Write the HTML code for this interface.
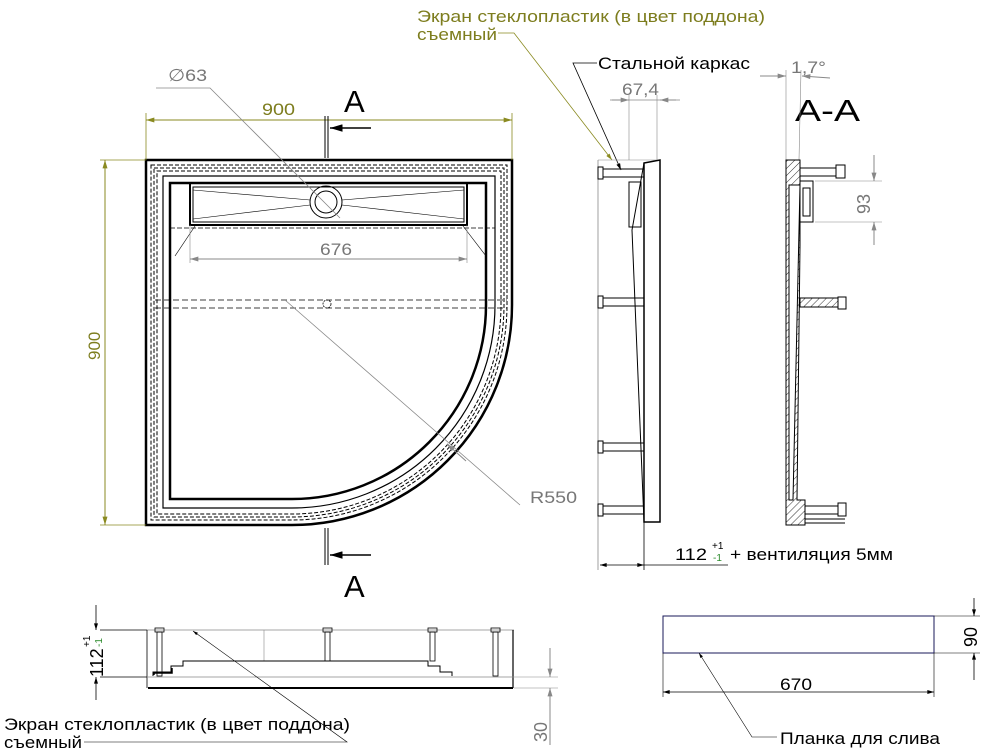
<!DOCTYPE html>
<html><head><meta charset="utf-8"><style>
html,body{margin:0;padding:0;background:#fff;}
svg{display:block;font-family:"Liberation Sans","DejaVu Sans",sans-serif;}
</style></head><body>
<svg width="993" height="754" viewBox="0 0 993 754" xmlns="http://www.w3.org/2000/svg">
<defs>
<marker id="ag" viewBox="0 0 10 6" refX="10" refY="3" markerWidth="12" markerHeight="5" orient="auto-start-reverse"><path d="M0,0 L10,3 L0,6 Z" fill="#888"/></marker>
<marker id="ao" viewBox="0 0 10 6" refX="10" refY="3" markerWidth="12" markerHeight="5" orient="auto-start-reverse"><path d="M0,0 L10,3 L0,6 Z" fill="#8a8a20"/></marker>
<marker id="ak" viewBox="0 0 10 6" refX="10" refY="3" markerWidth="10" markerHeight="5" orient="auto-start-reverse"><path d="M0,0 L10,3 L0,6 Z" fill="#000"/></marker>
<pattern id="hatch" width="5" height="5" patternUnits="userSpaceOnUse" patternTransform="rotate(45)"><line x1="0" y1="0" x2="0" y2="5" stroke="#000" stroke-width="0.8"/></pattern>
</defs>

<!-- Top labels -->
<text x="417" y="22" font-size="17" fill="#7d7d1e" textLength="348" lengthAdjust="spacingAndGlyphs">Экран стеклопластик (в цвет поддона)</text>
<text x="417" y="40" font-size="17" fill="#7d7d1e" textLength="80" lengthAdjust="spacingAndGlyphs">съемный</text>
<polyline points="498,33 514,33 612,160" fill="none" stroke="#8a8a20" stroke-width="0.8" marker-end="url(#ao)"/>
<text x="598" y="69" font-size="17" fill="#000" textLength="152" lengthAdjust="spacingAndGlyphs">Стальной каркас</text>
<polyline points="597,63 573,63 621,170" fill="none" stroke="#000" stroke-width="0.8" marker-end="url(#ak)"/>

<!-- Top view -->
<g fill="none" stroke="#000">
<path d="M146,160 H512 V305 A220,220 0 0 1 292,525 H146 Z" stroke-width="2.5"/>
<path d="M151,165 H507 V305 A215,215 0 0 1 292,520 H151 Z" stroke-width="1" stroke-dasharray="4,2"/>
<path d="M154,168 H504 V305 A212,212 0 0 1 292,517 H154 Z" stroke-width="1" stroke-dasharray="4,2"/>
<path d="M157,171 H501 V305 A209,209 0 0 1 292,514 H157 Z" stroke-width="1" stroke-dasharray="4,2"/>
<path d="M163,176 H495 V305 A203,203 0 0 1 292,508 H163 Z" stroke-width="1.2"/>
<path d="M170,183 H486 V305 A194,194 0 0 1 292,499 H170 Z" stroke-width="2.5"/>
<rect x="190" y="183" width="277" height="42" stroke-width="2"/>
<rect x="193" y="187" width="271" height="35" stroke-width="1"/>
<line x1="193" y1="190" x2="310" y2="200" stroke-width="0.6"/>
<line x1="193" y1="219" x2="310" y2="205" stroke-width="0.6"/>
<line x1="342" y1="200" x2="464" y2="190" stroke-width="0.6"/>
<line x1="342" y1="205" x2="464" y2="219" stroke-width="0.6"/>
<circle cx="326" cy="202" r="16" stroke-width="1"/>
<circle cx="326" cy="202" r="11" stroke-width="1"/>
<line x1="170" y1="228" x2="495" y2="228" stroke-width="0.8" stroke-dasharray="5,2"/>
<line x1="175" y1="256" x2="195" y2="226" stroke-width="0.6"/>
<line x1="486" y1="256" x2="463" y2="226" stroke-width="0.6"/>
<line x1="155" y1="300" x2="507" y2="300" stroke-width="0.8" stroke-dasharray="6,3"/>
<line x1="155" y1="308" x2="507" y2="308" stroke-width="0.8" stroke-dasharray="6,3"/>
<circle cx="327" cy="304" r="4" stroke-width="0.8" stroke-dasharray="2,1"/>
</g>
<!-- dims top view -->
<line x1="146" y1="120" x2="512" y2="120" stroke="#8a8a20" stroke-width="1" marker-start="url(#ao)" marker-end="url(#ao)"/>
<line x1="146" y1="113" x2="146" y2="160" stroke="#8a8a20" stroke-width="0.8"/>
<line x1="512" y1="113" x2="512" y2="160" stroke="#8a8a20" stroke-width="0.8"/>
<text x="262" y="115" font-size="17" fill="#7d7d1e" textLength="33" lengthAdjust="spacingAndGlyphs">900</text>
<line x1="105" y1="160" x2="105" y2="525" stroke="#8a8a20" stroke-width="1" marker-start="url(#ao)" marker-end="url(#ao)"/>
<line x1="100" y1="160" x2="146" y2="160" stroke="#8a8a20" stroke-width="0.8"/>
<line x1="100" y1="525" x2="146" y2="525" stroke="#8a8a20" stroke-width="0.8"/>
<text transform="translate(100,360) rotate(-90)" font-size="17" fill="#7d7d1e">900</text>
<line x1="190" y1="259" x2="467" y2="259" stroke="#888" stroke-width="1" marker-start="url(#ag)" marker-end="url(#ag)"/>
<line x1="190" y1="225" x2="190" y2="263" stroke="#888" stroke-width="0.6"/>
<line x1="467" y1="225" x2="467" y2="263" stroke="#888" stroke-width="0.6"/>
<text x="320" y="255" font-size="17" fill="#777" textLength="32" lengthAdjust="spacingAndGlyphs">676</text>
<text x="168" y="81" font-size="17" fill="#777" textLength="39" lengthAdjust="spacingAndGlyphs">∅63</text>
<polyline points="156,88 210,88 340,218" fill="none" stroke="#888" stroke-width="0.8"/>
<line x1="285" y1="300" x2="520" y2="505" stroke="#888" stroke-width="0.8"/>
<line x1="447" y1="444" x2="466" y2="461" stroke="#888" stroke-width="1" marker-start="url(#ag)"/>
<text x="530" y="503" font-size="17" fill="#777" textLength="47" lengthAdjust="spacingAndGlyphs">R550</text>
<!-- section A marks -->
<line x1="325" y1="116" x2="325" y2="158" stroke="#000" stroke-width="1"/>
<line x1="328" y1="116" x2="328" y2="158" stroke="#000" stroke-width="1"/>
<line x1="371" y1="128" x2="330" y2="128" stroke="#000" stroke-width="1.5" marker-end="url(#ak)"/>
<text x="344" y="112" font-size="31" fill="#000">A</text>
<line x1="325" y1="528" x2="325" y2="565" stroke="#000" stroke-width="1"/>
<line x1="328" y1="528" x2="328" y2="565" stroke="#000" stroke-width="1"/>
<line x1="371" y1="555" x2="330" y2="555" stroke="#000" stroke-width="1.5" marker-end="url(#ak)"/>
<text x="344" y="597" font-size="31" fill="#000">A</text>

<!-- Side view -->
<g stroke="#000" fill="none">
<line x1="598" y1="160" x2="598" y2="570" stroke="#888" stroke-width="0.8"/>
<line x1="598" y1="160" x2="660" y2="160" stroke="#888" stroke-width="0.6"/>
<path d="M644,163 L660,160 V522 H644 Z" stroke-width="1.5"/>
<path d="M644,163 L632,230 L644,522" stroke-width="1"/>
<rect x="629" y="182" width="12" height="45" stroke-width="1"/>
<g stroke-width="1">
<rect x="598" y="167" width="5" height="12"/><rect x="603" y="169" width="41" height="8"/>
<rect x="598" y="296" width="5" height="12"/><rect x="603" y="298" width="41" height="8"/>
<rect x="598" y="441" width="5" height="12"/><rect x="603" y="443" width="41" height="8"/>
<rect x="598" y="504" width="5" height="12"/><rect x="603" y="506" width="41" height="8"/>
</g>
<line x1="644" y1="522" x2="644" y2="570" stroke="#000" stroke-width="0.8"/>
</g>
<line x1="600" y1="565" x2="644" y2="565" stroke="#000" stroke-width="0.8" marker-start="url(#ak)" marker-end="url(#ak)"/>
<line x1="644" y1="565" x2="728" y2="565" stroke="#000" stroke-width="0.8"/>
<text x="675" y="560" font-size="17" fill="#000" textLength="32" lengthAdjust="spacingAndGlyphs">112</text>
<text x="712" y="549" font-size="10" fill="#000">+1</text>
<text x="713" y="561" font-size="10" fill="#2a8a2a">-1</text>
<text x="730" y="560" font-size="17" fill="#000" textLength="163" lengthAdjust="spacingAndGlyphs">+ вентиляция 5мм</text>
<line x1="610" y1="100" x2="680" y2="100" stroke="#888" stroke-width="0.8"/>
<line x1="612" y1="100" x2="629" y2="100" stroke="#888" stroke-width="1" marker-end="url(#ag)"/>
<line x1="676" y1="100" x2="660" y2="100" stroke="#888" stroke-width="1" marker-end="url(#ag)"/>
<line x1="629" y1="95" x2="629" y2="160" stroke="#888" stroke-width="0.6"/>
<line x1="657" y1="95" x2="657" y2="160" stroke="#888" stroke-width="0.6"/>
<text x="622" y="95" font-size="17" fill="#777" textLength="37" lengthAdjust="spacingAndGlyphs">67,4</text>

<!-- Section A-A -->
<text x="795" y="121" font-size="31" fill="#000" textLength="65" lengthAdjust="spacingAndGlyphs">A-A</text>
<text x="791" y="73" font-size="17" fill="#777" textLength="35" lengthAdjust="spacingAndGlyphs">1,7°</text>
<line x1="760" y1="76" x2="786" y2="76" stroke="#888" stroke-width="1" marker-end="url(#ag)"/>
<line x1="830" y1="78" x2="802" y2="76" stroke="#888" stroke-width="1" marker-end="url(#ag)"/>
<line x1="786" y1="70" x2="786" y2="160" stroke="#888" stroke-width="0.6"/>
<line x1="801" y1="70" x2="799" y2="160" stroke="#888" stroke-width="0.6"/>
<g stroke="#000" stroke-width="1">
<path d="M786,160 H800 V245 L797,500 H805 V525 H786 Z" fill="url(#hatch)"/>
<path d="M789,185 L800,185 L793,500 L789,500 Z" fill="#fff"/>
<rect x="800" y="168" width="38" height="8" fill="#fff"/><rect x="836" y="165" width="9" height="13" fill="#fff"/>
<rect x="800" y="181" width="13" height="41" fill="#fff"/><rect x="803" y="188" width="7" height="28" fill="#fff"/>
<rect x="800" y="298" width="38" height="9" fill="url(#hatch)"/><rect x="838" y="297" width="8" height="12" fill="#fff"/>
<rect x="805" y="506" width="33" height="8" fill="#fff"/><rect x="838" y="503" width="8" height="13" fill="#fff"/>
<line x1="805" y1="519" x2="845" y2="519"/><line x1="805" y1="523" x2="845" y2="523"/>
</g>
<line x1="815" y1="181" x2="882" y2="181" stroke="#888" stroke-width="0.6"/>
<line x1="815" y1="222" x2="882" y2="222" stroke="#888" stroke-width="0.6"/>
<line x1="874" y1="155" x2="874" y2="181" stroke="#888" stroke-width="1" marker-end="url(#ag)"/>
<line x1="874" y1="245" x2="874" y2="222" stroke="#888" stroke-width="1" marker-end="url(#ag)"/>
<text transform="translate(870,214) rotate(-90)" font-size="18" fill="#777">93</text>

<!-- Front view bottom -->
<g stroke="#000" fill="none">
<line x1="147" y1="630" x2="514" y2="630" stroke="#888" stroke-width="0.8"/>
<line x1="147" y1="630" x2="147" y2="688" stroke-width="0.8"/>
<line x1="513" y1="630" x2="513" y2="688" stroke-width="1.2"/>
<line x1="147" y1="677" x2="514" y2="677" stroke="#888" stroke-width="0.8"/>
<line x1="148" y1="688" x2="513" y2="688" stroke-width="2"/>
<line x1="264" y1="630" x2="264" y2="661" stroke="#888" stroke-width="0.6"/>
<path d="M153,676 V672 H171 V666 H183 V661 H428 V666 H440 V672 H452 V676" stroke-width="1"/>
<path d="M154,675 V673 H172 V668" stroke-width="1.5"/>
<g stroke-width="0.8">
<rect x="155" y="628" width="9" height="4"/><rect x="157" y="632" width="5" height="44"/>
<rect x="323" y="628" width="9" height="4"/><rect x="325" y="632" width="5" height="29"/>
<rect x="428" y="628" width="9" height="4"/><rect x="430" y="632" width="5" height="29"/>
<rect x="491" y="628" width="9" height="4"/><rect x="493" y="632" width="5" height="44"/>
</g>
</g>
<line x1="100" y1="630" x2="147" y2="630" stroke="#000" stroke-width="0.8"/>
<line x1="100" y1="677" x2="147" y2="677" stroke="#000" stroke-width="0.8"/>
<line x1="96" y1="605" x2="96" y2="630" stroke="#000" stroke-width="0.8" marker-end="url(#ak)"/>
<line x1="96" y1="700" x2="96" y2="677" stroke="#000" stroke-width="0.8" marker-end="url(#ak)"/>
<text transform="translate(103,677) rotate(-90)" font-size="18" fill="#000">112</text>
<text transform="translate(90,647) rotate(-90)" font-size="10" fill="#000">+1</text>
<text transform="translate(102,647) rotate(-90)" font-size="10" fill="#2a8a2a">-1</text>
<line x1="514" y1="677" x2="558" y2="677" stroke="#888" stroke-width="0.6"/>
<line x1="514" y1="688" x2="558" y2="688" stroke="#888" stroke-width="0.6"/>
<line x1="550" y1="648" x2="550" y2="677" stroke="#888" stroke-width="1" marker-end="url(#ag)"/>
<line x1="550" y1="745" x2="550" y2="688" stroke="#888" stroke-width="1" marker-end="url(#ag)"/>
<text transform="translate(547,742) rotate(-90)" font-size="18" fill="#777">30</text>
<text x="4" y="730" font-size="17" fill="#000" textLength="346" lengthAdjust="spacingAndGlyphs">Экран стеклопластик (в цвет поддона)</text>
<text x="4" y="748" font-size="17" fill="#000" textLength="78" lengthAdjust="spacingAndGlyphs">съемный</text>
<polyline points="84,742 347,742 193,631" fill="none" stroke="#000" stroke-width="0.6" marker-end="url(#ak)"/>

<!-- Planka -->
<rect x="663" y="616" width="271" height="37" fill="none" stroke="#1a1a5a" stroke-width="1"/>
<line x1="934" y1="616" x2="980" y2="616" stroke="#000" stroke-width="0.6"/>
<line x1="934" y1="653" x2="980" y2="653" stroke="#000" stroke-width="0.6"/>
<line x1="974" y1="598" x2="974" y2="616" stroke="#000" stroke-width="0.8" marker-end="url(#ak)"/>
<line x1="974" y1="680" x2="974" y2="653" stroke="#000" stroke-width="0.8" marker-end="url(#ak)"/>
<text transform="translate(977,647) rotate(-90)" font-size="18" fill="#000">90</text>
<line x1="663" y1="653" x2="663" y2="697" stroke="#000" stroke-width="0.6"/>
<line x1="934" y1="653" x2="934" y2="697" stroke="#000" stroke-width="0.6"/>
<line x1="663" y1="692" x2="934" y2="692" stroke="#000" stroke-width="0.8" marker-start="url(#ak)" marker-end="url(#ak)"/>
<text x="780" y="690" font-size="17" fill="#000" textLength="32" lengthAdjust="spacingAndGlyphs">670</text>
<text x="780" y="744" font-size="17" fill="#000" textLength="160" lengthAdjust="spacingAndGlyphs">Планка для слива</text>
<polyline points="777,737 752,737 699,653" fill="none" stroke="#000" stroke-width="0.6" marker-end="url(#ak)"/>
</svg>
</body></html>
